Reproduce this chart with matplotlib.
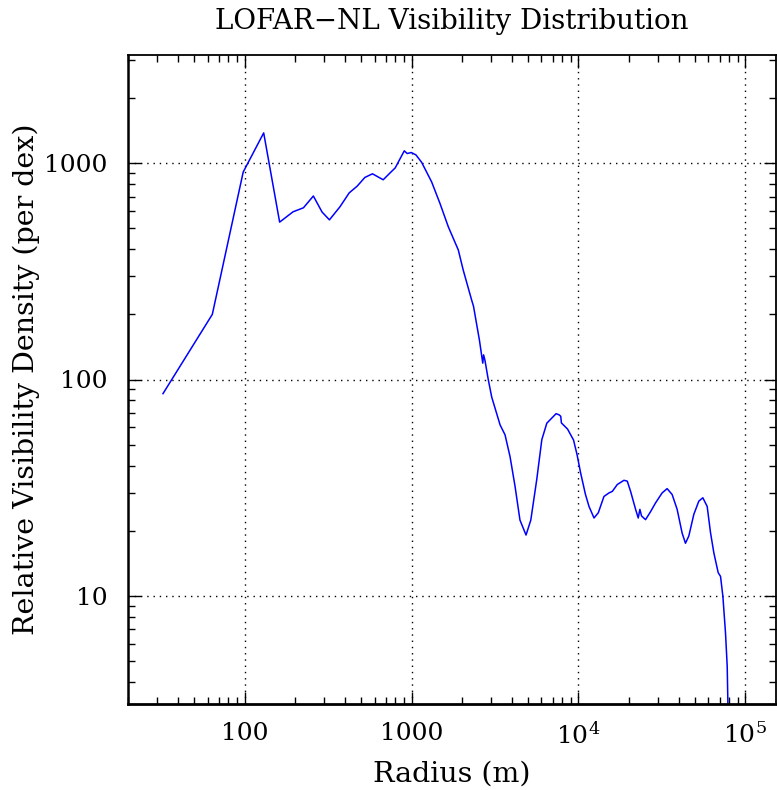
import matplotlib
matplotlib.use("Agg")
import matplotlib.pyplot as plt
from matplotlib.ticker import FixedLocator, FixedFormatter, LogLocator, NullFormatter

radius_m = [32.4, 64, 98, 130, 162, 195, 225, 258, 291, 322, 372, 423, 472, 525, 583,
            676, 748, 798, 904, 942, 996, 1062, 1148, 1318, 1479, 1660, 1905, 2040,
            2290, 2350, 2550, 2670, 2700, 2750, 2880, 3020, 3390, 3630, 3890, 4170,
            4460, 4850, 5180, 5620, 6030, 6460, 7340, 7640, 7830, 7900, 8600, 9340,
            9800, 10300, 11000, 11560, 12390, 13140, 14210, 15230, 15950, 17080, 18720,
            19600, 20520, 21990, 22800, 23330, 23870, 25220, 27030, 28960, 31700,
            33970, 36400, 39000, 41780, 43750, 45810, 49090, 52600, 55590, 59020,
            61800, 64710, 68700, 70960, 73300, 76000, 77800, 79000]
density = [86, 200, 910, 1380, 534, 596, 622, 705, 594, 547, 628, 729, 783, 859, 893,
           838, 906, 951, 1140, 1108, 1120, 1092, 1010, 820, 652, 508, 397, 320,
           233, 218, 152, 119, 130, 123, 100, 83, 61.7, 55.5, 44, 32,
           22.4, 19.1, 22.4, 34.4, 52.7, 62.8, 69.5, 68.7, 67.6, 63, 59, 52.5,
           45, 37, 29.5, 25.9, 22.9, 24.2, 28.8, 29.9, 30.4, 32.7, 34.2,
           33.9, 30.4, 25.1, 22.9, 25.1, 23.4, 22.5, 24.5, 26.9, 29.9,
           31.3, 29.4, 25.1, 19.5, 17.5, 18.9, 23.8, 27.4, 28.4, 25.9,
           19.6, 15.8, 12.8, 12.3, 9.95, 6.74, 4.73, 2.5]

x_ticks = [100, 1000, 1e4, 1e5]
x_tick_labels = ["100", "1000", r"$\mathregular{10^4}$", r"$\mathregular{10^5}$"]
y_ticks = [10, 100, 1000]
y_tick_labels = ["10", "100", "1000"]

plt.rcParams['font.family'] = ['DejaVu Serif']
plt.rcParams['mathtext.fontset'] = 'dejavuserif'

fig = plt.figure(figsize=(7.77, 7.90), dpi=100)
ax = fig.add_axes([128/777, 86/790, 1 - 128/777 - 0.001, (704-55)/790])

ax.plot(radius_m, density, color='#0000ff', lw=1.1)
ax.set_xscale('log')
ax.set_yscale('log')
ax.set_xlim(20, 1.53e5)
ax.set_ylim(10**0.5, 10**3.5)

ax.xaxis.set_major_locator(FixedLocator(x_ticks))
ax.xaxis.set_major_formatter(FixedFormatter(x_tick_labels))
ax.yaxis.set_major_locator(FixedLocator(y_ticks))
ax.yaxis.set_major_formatter(FixedFormatter(y_tick_labels))
ax.xaxis.set_minor_locator(LogLocator(base=10, subs=range(2, 10), numticks=20))
ax.yaxis.set_minor_locator(LogLocator(base=10, subs=range(2, 10), numticks=20))
ax.xaxis.set_minor_formatter(NullFormatter())
ax.yaxis.set_minor_formatter(NullFormatter())

ax.tick_params(which='both', direction='in', top=True, right=True, color='black', width=1)
ax.tick_params(which='major', length=9, labelsize=18)
ax.tick_params(axis='x', which='major', pad=13)
ax.tick_params(axis='y', which='major', pad=15)
ax.tick_params(which='minor', length=5)

ax.grid(True, which='major', color='black', linestyle=(0, (1, 3.5)), lw=1)
for s in ax.spines.values():
    s.set_linewidth(1.3)
ax.spines['bottom'].set_linewidth(2)
ax.spines['left'].set_linewidth(1.8)

ax.set_title("LOFAR\u2212NL Visibility Distribution", fontsize=20, pad=19)
ax.set_xlabel("Radius (m)", fontsize=20.5, labelpad=9)
ax.set_ylabel("Relative Visibility Density (per dex)", fontsize=20.5, labelpad=3)

fig.savefig("out.png", dpi=100)
